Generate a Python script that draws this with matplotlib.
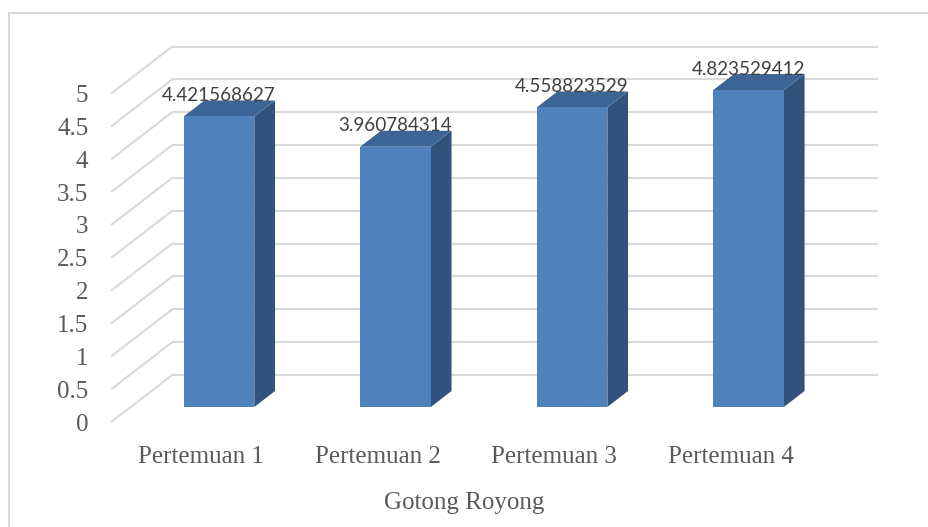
import matplotlib
matplotlib.use("Agg")
import matplotlib.pyplot as plt
from matplotlib.patches import Polygon, Rectangle

# data
categories = ["Pertemuan 1", "Pertemuan 2", "Pertemuan 3", "Pertemuan 4"]
values = [4.421568627, 3.960784314, 4.558823529, 4.823529412]
value_labels = ["4.421568627", "3.960784314", "4.558823529", "4.823529412"]
yticks = [0, 0.5, 1, 1.5, 2, 2.5, 3, 3.5, 4, 4.5, 5]
ytick_labels = ["0", "0.5", "1", "1.5", "2", "2.5", "3", "3.5", "4", "4.5", "5"]
axis_title = "Gotong Royong"

# oblique "3d" look: depth vector in data units, bars sit in the middle of the depth
DX, DY = 0.3456, 0.715
F0, F1 = 0.32, 0.66
BAR_W = 0.4
XMIN, XMAX = -0.5, 3.5

FRONT = "#4F81BD"
TOP = "#3C6494"
SIDE = "#31527D"
GRID = "#D9D9D9"
TXT = "#595959"

fig = plt.figure(figsize=(9.29, 5.27), dpi=100)
ax = fig.add_axes([0, 0, 1, 1])
ax.set_xlim(-1.13, 4.133)
ax.set_ylim(-1.598, 6.423)
ax.axis("off")

# side wall diagonals and back wall lines
for v in yticks:
    ax.plot([XMIN, XMIN + DX], [v, v + DY], color=GRID, lw=1.5, zorder=1,
            solid_capstyle="butt")
    ax.plot([XMIN + DX, XMAX + DX], [v + DY, v + DY], color=GRID, lw=1.5,
            zorder=1, solid_capstyle="butt")

xs = list(range(len(categories)))
fx, fy = F0 * DX, F0 * DY
bx, by = F1 * DX, F1 * DY

# front faces
ax.bar([x + fx for x in xs], values, width=BAR_W, bottom=fy, color=FRONT,
       zorder=4, linewidth=0)

for x, v, lab in zip(xs, values, value_labels):
    l, r = x + fx - BAR_W / 2, x + fx + BAR_W / 2
    dx, dy = bx - fx, by - fy
    side = [(r, fy), (r + dx, fy + dy), (r + dx, v + fy + dy), (r, v + fy)]
    top = [(l, v + fy), (r, v + fy), (r + dx, v + fy + dy), (l + dx, v + fy + dy)]
    ax.add_patch(Polygon(side, closed=True, facecolor=SIDE, edgecolor="none", zorder=3))
    ax.add_patch(Polygon(top, closed=True, facecolor=TOP, edgecolor="none", zorder=3))
    ax.text(x + fx, v + by - 0.01, lab, ha="center", va="baseline", fontsize=13.6,
            family="Lato", color="#404040", zorder=6)

# value axis labels
for v, t in zip(yticks, ytick_labels):
    ax.text(XMIN - 0.13, v, t, ha="right", va="center_baseline", fontsize=18,
            family="Liberation Serif", color=TXT)

# category labels
for x, c in zip(xs, categories):
    ax.text(x + 0.01, -0.54, c, ha="center", va="center", fontsize=18,
            family="Liberation Serif", color=TXT)

ax.text(1.5, -1.24, axis_title, ha="center", va="center", fontsize=18,
        family="Liberation Serif", color=TXT)

# chart border
fig.patches.append(Rectangle((8.5 / 929, -0.05), 1.1, 1 - 12.5 / 527 + 0.05,
                             transform=fig.transFigure, fill=False,
                             edgecolor=GRID, lw=1.5))

fig.savefig("out.png", dpi=100)
